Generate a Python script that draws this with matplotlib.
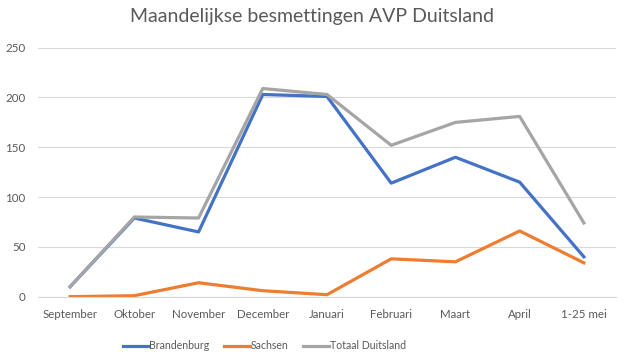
import matplotlib.pyplot as plt

maanden = ['September', 'Oktober', 'November', 'December', 'Januari',
           'Februari', 'Maart', 'April', '1-25 mei']
brandenburg = [10, 79, 65, 203, 201, 114, 140, 115, 40]
sachsen = [0, 1, 14, 6, 2, 38, 35, 66, 34]
totaal = [10, 80, 79, 209, 203, 152, 175, 181, 74]

plt.rcParams['font.family'] = ['Lato', 'DejaVu Sans']

fig = plt.figure(figsize=(6.25, 3.54), dpi=100)
ax = fig.add_axes([0.0608, 0.1619, 0.9248, 0.7034])

x = range(len(maanden))
ax.plot(x, brandenburg, color='#4472C4', lw=2.3, label='Brandenburg', solid_joinstyle='round')
ax.plot(x, sachsen, color='#ED7D31', lw=2.3, label='Sachsen', solid_joinstyle='round')
ax.plot(x, totaal, color='#A5A5A5', lw=2.3, label='Totaal Duitsland', solid_joinstyle='round')

ax.set_xlim(-0.5, len(maanden) - 0.5)
ax.set_ylim(0, 250)
ax.set_yticks(range(0, 251, 50))
ax.set_xticks(list(x))
ax.set_xticklabels(maanden)
ax.grid(axis='y', color='#D9D9D9', lw=0.8)
ax.set_axisbelow(True)
for s in ['top', 'right', 'left']:
    ax.spines[s].set_visible(False)
ax.spines['bottom'].set_color('#D9D9D9')
ax.tick_params(length=0, labelsize=8.3, labelcolor='#595959')
ax.tick_params(axis='y', pad=9)
ax.tick_params(axis='x', pad=9)

fig.text(0.5, 0.952, 'Maandelijkse besmettingen AVP Duitsland', ha='center', va='center',
         fontsize=14, color='#595959')

fig.legend(loc='center', bbox_to_anchor=(0.423, 0.023), ncol=3, frameon=False,
           fontsize=7.6, labelcolor='#595959', handlelength=2.4, handletextpad=0.1,
           columnspacing=1.4)

fig.savefig('out.png', dpi=100)
